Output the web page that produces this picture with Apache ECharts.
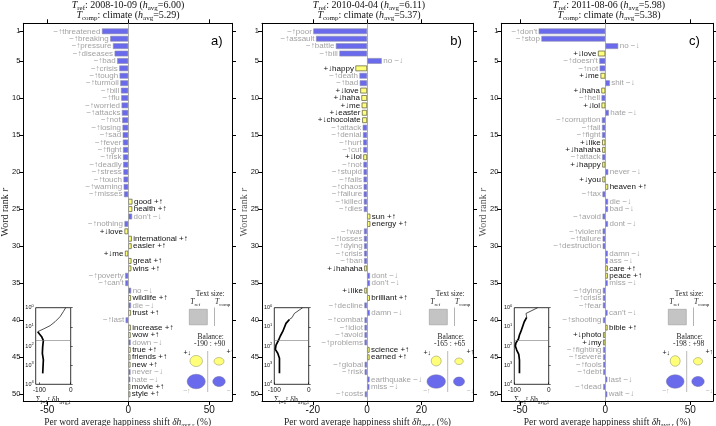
<!DOCTYPE html>
<html><head><meta charset="utf-8">
<script src="https://cdn.jsdelivr.net/npm/echarts@6/dist/echarts.min.js"></script>
<style>html,body{margin:0;padding:0;background:#fff}#c{width:716px;height:426px}</style>
</head><body><div id="c"></div>
<script>
// ---------------- DATA ----------------
const rankTicks = [1,5,10,15,20,25,30,35,40,45,50];
const rankCats = Array.from({length:50}, (_, i) => String(i + 1));

const wordsA = ['threatened','breaking','pressure','diseases','bad','crisis','tough','turmoil','bill','flu','worried','attacks','not','losing','sad','fever','fight','risk','deadly','stress','touch','warning','misses','good','health',"don't",'nothing','love','international','easier','me','great','wins','poverty',"can't",'no','wildlife','die','trust','last','increase','wow','down','true','friends','new','never','hate','movie','style'];
const typesA = ['-u','-u','-u','-u','-u','-u','-u','-u','-u','-u','-u','-u','-u','-u','-u','-u','-u','-u','-u','-u','-u','-u','-u','+u','+u','-d','-u','+d','+u','+u','+d','+u','+u','-u','-u','-d','+u','-d','+u','-u','+u','+u','-d','+u','+u','+u','-d','-d','+u','+u'];
const valuesA = [-16.2,-11.1,-9.4,-8.4,-6.8,-5.5,-5.3,-4.9,-4.5,-4.3,-4.1,-3.9,-3.7,-3.5,-3.4,-3.3,-3.2,-3.2,-3.1,-3.0,-2.9,-2.8,-2.6,2.6,2.5,2.4,-2.3,-2.3,2.2,2.1,-2.0,2.0,1.9,-1.9,-1.8,1.8,1.7,1.7,1.7,-1.6,1.6,1.5,1.5,1.5,1.4,1.4,1.4,1.3,1.3,1.3];

const wordsB = ['poor','assault','battle','bill','no','happy','death','bad','love','haha','me','easter','chocolate','attack','denial','hurt','cut','lol','not','stupid','fails','chaos','failure','killed','dies','sun','energy','war','losses','dying','crisis','ban','hahaha','dont',"don't",'like','brilliant','decline','damn','combat','idiot','avoid','problems','science','earned','global','risk','earthquake','miss','costs'];
const typesB = ['-u','-u','-u','-u','-d','+d','-u','-u','+d','+d','+d','+d','+d','-u','-u','-u','-u','+d','-u','-u','-u','-u','-u','-u','-u','+u','+u','-u','-u','-u','-u','-u','+d','-d','-d','+d','+u','-u','-d','-u','-u','-u','-u','+u','+u','-u','-u','-d','-d','-u'];
const valuesB = [-19.8,-18.8,-11.5,-10.2,5.4,-4.3,-2.8,-2.7,-2.5,-2.1,-2.0,-1.9,-1.8,-1.6,-1.5,-1.45,-1.4,-1.4,-1.35,-1.3,-1.3,-1.25,-1.25,-1.2,-1.2,1.2,1.2,-1.15,-1.15,-1.1,-1.1,-1.1,-1.05,1.05,1.05,-1.0,1.0,-1.0,1.0,-0.95,-0.95,-0.95,-0.95,0.9,0.9,-0.9,-0.9,0.9,0.85,-0.85];

const wordsC = ["don't",'stop','no','love',"doesn't",'not','me','shit','haha','hell','lol','hate','corruption','fail','fight','like','hahaha','attack','happy','never','you','heaven','tax','die','bad','avoid','dont','violent','failure','destruction','damn','ass','care','peace','miss','dying','crisis','fear',"can't",'shooting','bible','photo','my','fighting','severe','fools','debt','last','dead','wait'];
const typesC = ['-u','-u','-d','+d','-u','-u','+d','-d','+d','-u','+d','-d','-u','-u','-u','+d','+d','-u','+d','-d','+d','+u','-u','-d','-d','-u','-d','-u','-u','-u','-d','-d','+u','+u','-d','-u','-u','-u','-d','-u','+u','+d','+d','-u','-u','-u','-u','-d','-u','-d'];
const valuesC = [-39.2,-37.6,7.6,-4.3,-3.5,-3.3,-2.8,2.7,-2.3,-2.2,-2.2,2.1,-2.0,-1.9,-1.9,-1.85,-1.8,-1.8,-1.75,1.75,-1.7,1.7,-1.65,1.65,1.6,-1.6,1.6,-1.55,-1.55,-1.5,1.5,1.5,1.45,1.45,1.45,-1.4,-1.4,-1.4,1.35,-1.35,1.35,-1.3,-1.3,-1.3,-1.25,-1.25,-1.25,1.2,-1.2,1.2];

// cumulative-sum insets (rank r, cumulative shift)
const cumA_rThin = [1,1.6,2.95,5.4,8.7,13,17.9];
const cumA_vThin = [-16,-23.5,-34,-50,-66,-87.5,-105.6];
const cumA_rThick = [17.9,23.7,32.6,52.7,108,241,537,2680];
const cumA_vThick = [-105.6,-100,-93,-87.5,-89.6,-90.7,-87.5,-89.6];
const cumB_rThin = [1,2,3.3,4.1];
const cumB_vThin = [-17.5,-41.7,-48.5,-56];
const cumB_rThick = [4.1,6.6,17.9,30,48.6,89,149,240,437,2680];
const cumB_vThick = [-56,-66,-75.7,-82.5,-87.4,-95,-97,-90,-85,-85];
const cumC_rThin = [1,2,3.2];
const cumC_vThin = [-32,-66,-64];
const cumC_rThick = [3.2,5.4,9.8,17.9,26.7,43,67,100,162,274,540,2680];
const cumC_vThick = [-64,-71,-76,-81,-85,-88,-95,-97,-93,-87,-85,-85];

const refDates = ['2008-10-09','2010-04-04','2011-08-06'];
const hRef = ['6.00','6.11','5.98'];
const hComp = ['5.29','5.37','5.38'];
const balances = ['-190 : +90','-165 : +65','-198 : +98'];
const xTicksA = [-50,0,50], xTicksB = [-20,0,20], xTicksC = [-50,0,50];
const insetTicks = [-100,0];

// ---------------- STYLE / LAYOUT ----------------
const SANS = "'Liberation Sans','DejaVu Sans',Arial,sans-serif";
const SERIF = "'Liberation Serif','DejaVu Serif','Times New Roman',serif";
const BLUE = '#6a6aec', YELLOW = '#ffff7a';
const TOP = 23.3, BOT = 401, BTOP = 27.6, BBOT = 398;

const panels = [
  {left:23.3, right:232, xmin:-64.7, xmax:64, ticks:xTicksA, words:wordsA, types:typesA, vals:valuesA, letter:'a)', lx:216.7,
   inset:{left:35.7, right:70.7, xmin:-112}, cum:[cumA_rThin,cumA_vThin,cumA_rThick,cumA_vThick], div:207.7,
   circ:[[6.2,5.5],[5,3.8],[9,7.2],[6.2,5]]},
  {left:262, right:473, xmin:-38.7, xmax:39, ticks:xTicksB, words:wordsB, types:typesB, vals:valuesB, letter:'b)', lx:456,
   inset:{left:274.3, right:308.7, xmin:-100}, cum:[cumB_rThin,cumB_vThin,cumB_rThick,cumB_vThick], div:447.7,
   circ:[[5,5],[4.2,3.3],[9.2,6.7],[5.5,4.5]]},
  {left:501.3, right:713, xmin:-61.2, xmax:63.4, ticks:xTicksC, words:wordsC, types:typesC, vals:valuesC, letter:'c)', lx:694.3,
   inset:{left:514.3, right:548.7, xmin:-100}, cum:[cumC_rThin,cumC_vThin,cumC_rThick,cumC_vThick], div:686.7,
   circ:[[5,5.3],[4.5,3.7],[8.8,6.7],[6.2,5]]}
];

function barData(words, types, vals) {
  return vals.map(function (v, i) {
    const t = types[i];
    const plus = t.charAt(0) === '+';
    const arrow = (plus ? '+' : '\u2212') + (t.charAt(1) === 'u' ? '\u2191' : '\u2193');
    const neg = v < 0;
    return {
      value: v,
      itemStyle: plus ? {color: YELLOW, borderColor: '#55553a', borderWidth: 0.7}
                      : {color: BLUE, borderColor: '#8c8cae', borderWidth: 0.6},
      label: {show: true, position: neg ? 'left' : 'right',
               formatter: neg ? arrow + words[i] : words[i] + ' ' + arrow,
               color: plus ? '#111' : '#a2a2a2'}
    };
  });
}

function txt(x, y, text, rich, extra) {
  return Object.assign({type:'text', x:x, y:y, silent:true, style:{text:text, rich:rich,
    align:'center', textAlign:'center', verticalAlign:'middle', textVerticalAlign:'middle',
    fontFamily:SERIF, fontSize:7, fill:'#222'}}, extra || {});
}
function serifRich(fs, sub, color) {
  color = color || '#111';
  return {
    n:{fontFamily:SERIF, fontSize:fs, fill:color},
    i:{fontFamily:SERIF, fontSize:fs, fontStyle:'italic', fill:color},
    s:{fontFamily:SERIF, fontSize:sub, fill:color, padding:[Math.round(fs*0.6),0,0,0]}
  };
}

const grid = [], xAxis = [], yAxis = [], series = [], graphic = [];

panels.forEach(function (p, k) {
  const W = p.right - p.left;
  grid.push({left:p.left, top:TOP, width:W, height:BOT - TOP, containLabel:false, outerBoundsMode:'none'});
  grid.push({left:p.left, top:BTOP, width:W, height:BBOT - BTOP, containLabel:false, outerBoundsMode:'none'});
  grid.push({left:p.inset.left, top:307.7, width:p.inset.right - p.inset.left, height:76.6, containLabel:false,
             outerBoundsMode:'none', show:true, borderColor:'#000', borderWidth:0.8, backgroundColor:'#fff'});
  const gF = 3*k, gB = 3*k + 1, gI = 3*k + 2;
  const ax = 4*k;
  xAxis.push({gridIndex:gF, type:'value', min:p.xmin, max:p.xmax, position:'bottom',
    axisLine:{show:true, onZero:false, lineStyle:{color:'#000', width:1}},
    axisTick:{show:true, customValues:p.ticks, length:4, lineStyle:{color:'#000', width:1}},
    axisLabel:{show:true, customValues:p.ticks, fontFamily:SANS, fontSize:10, color:'#111', margin:4},
    splitLine:{show:false},
    name:'{n|Per word average happiness shift }{i|\u03b4h}{s|avg,r}{n| (%)}',
    nameLocation:'middle', nameGap:15, nameMoveOverlap:false,
    nameTextStyle:{fontFamily:SERIF, fontSize:9.5, color:'#222',
      rich:{n:{fontFamily:SERIF, fontSize:9.5}, i:{fontFamily:SERIF, fontSize:9.5, fontStyle:'italic'},
            s:{fontFamily:SERIF, fontSize:6.5, padding:[6,0,0,0]}}}
  });
  xAxis.push({gridIndex:gF, type:'value', min:p.xmin, max:p.xmax, position:'top',
    axisLine:{show:true, onZero:false, lineStyle:{color:'#000', width:1}},
    axisTick:{show:true, customValues:p.ticks, length:4, lineStyle:{color:'#000'}},
    axisLabel:{show:false}, splitLine:{show:false}});
  xAxis.push({gridIndex:gB, type:'value', min:p.xmin, max:p.xmax, show:false, splitLine:{show:false}});
  xAxis.push({gridIndex:gI, type:'value', min:p.inset.xmin, max:0,
    axisLine:{show:false}, splitLine:{show:false},
    axisTick:{show:true, customValues:insetTicks, length:2, inside:true, lineStyle:{color:'#000', width:0.6}},
    axisLabel:{customValues:insetTicks, fontFamily:SANS, fontSize:6.5, color:'#111', margin:2},
    name:'{t|\u03a3}{b|i=1}{p|r}{t| \u03b4h}{b|avg,i}', nameLocation:'middle', nameGap:11, nameMoveOverlap:false,
    nameTextStyle:{fontFamily:SERIF, fontSize:8, color:'#222',
      rich:{t:{fontFamily:SERIF, fontSize:8}, b:{fontFamily:SERIF, fontSize:5.5, padding:[4,0,0,0]},
            p:{fontFamily:SERIF, fontSize:5.5, padding:[0,0,4,0]}}}
  });

  yAxis.push({gridIndex:gF, type:'value', min:-0.08, max:50.92, inverse:true, position:'left',
    axisLine:{show:true, onZero:false, lineStyle:{color:'#000', width:1}},
    axisTick:{show:true, customValues:rankTicks, length:4, lineStyle:{color:'#000'}},
    axisLabel:{customValues:rankTicks, fontFamily:SANS, fontSize:7.5, color:'#111', margin:3},
    splitLine:{show:false},
    name:'{n|Word rank }{i|r}', nameLocation:'middle', nameGap:13, nameMoveOverlap:false,
    nameTextStyle:{fontFamily:SERIF, fontSize:10, color:k === 0 ? '#222' : '#555',
      rich:{n:{fontFamily:SERIF, fontSize:10}, i:{fontFamily:SERIF, fontSize:10, fontStyle:'italic'}}}
  });
  yAxis.push({gridIndex:gF, type:'value', min:-0.08, max:50.92, inverse:true, position:'right',
    axisLine:{show:true, onZero:false, lineStyle:{color:'#000', width:1}},
    axisTick:{show:true, customValues:rankTicks, length:4, lineStyle:{color:'#000'}},
    axisLabel:{show:false}, splitLine:{show:false}});
  yAxis.push({gridIndex:gB, type:'category', data:rankCats, inverse:true, show:false});
  yAxis.push({gridIndex:gI, type:'log', logBase:10, min:1, max:10000, inverse:true,
    axisLine:{show:false}, splitLine:{show:false}, minorTick:{show:false},
    axisTick:{show:true, length:2, inside:true, lineStyle:{color:'#000', width:0.6}},
    axisLabel:{fontFamily:SANS, fontSize:5.5, color:'#111', margin:2,
      formatter:function (v) { return '{b|10}{p|' + Math.round(Math.log10(v)) + '}'; },
      rich:{b:{fontFamily:SANS, fontSize:5.5}, p:{fontFamily:SANS, fontSize:4, padding:[0,0,4,0]}}}
  });

  series.push({type:'scatter', xAxisIndex:ax, yAxisIndex:ax, data:[], silent:true,
    markLine:{silent:true, symbol:'none', animation:false, label:{show:false},
      lineStyle:{color:'#9a9a9a', width:0.8, type:'solid'}, data:[{xAxis:0}]}});
  series.push({type:'bar', xAxisIndex:ax + 2, yAxisIndex:ax + 2, barWidth:5.7, silent:true,
    data:barData(p.words, p.types, p.vals),
    label:{show:true, fontFamily:SANS, fontSize:8, distance:1.5}});
  const c = p.cum;
  series.push({type:'line', xAxisIndex:ax + 3, yAxisIndex:ax + 3, showSymbol:false, silent:true,
    lineStyle:{color:'#000', width:0.7}, data:c[1].map(function (v, i) { return [v, c[0][i]]; }),
    markLine:{silent:true, symbol:'none', animation:false, label:{show:false},
      lineStyle:{color:'#777', width:0.6, type:'solid'}, data:[{yAxis:50}]}});
  series.push({type:'line', xAxisIndex:ax + 3, yAxisIndex:ax + 3, showSymbol:false, silent:true,
    lineStyle:{color:'#000', width:1.7}, data:c[3].map(function (v, i) { return [v, c[2][i]]; })});

  const cx = (k === 0) ? 128 : (k === 1 ? 369 : 609);
  graphic.push(txt(cx, 5.5, '{i|T}{s|ref}{n|: ' + refDates[k] + ' (}{i|h}{s|avg}{n|=' + hRef[k] + ')}', serifRich(10, 7)));
  graphic.push(txt(cx, 15.5, '{i|T}{s|comp}{n|: climate (}{i|h}{s|avg}{n|=' + hComp[k] + ')}', serifRich(10, 7)));
  graphic.push({type:'text', x:p.lx, y:41.7, silent:true, style:{text:p.letter, fontFamily:SANS, fontSize:13, fill:'#000',
    align:'center', textAlign:'center', verticalAlign:'middle', textVerticalAlign:'middle'}});

  const d = p.div;
  graphic.push(txt(d + 2.5, 294.5, '{n|Text size:}', serifRich(7.5, 5, '#222')));
  graphic.push(txt(d - 12.5, 302, '{i|T}{s|ref}', serifRich(7.5, 5, '#222')));
  graphic.push(txt(d + 15, 302, '{i|T}{s|comp}', serifRich(7.5, 5, '#222')));
  graphic.push({type:'rect', silent:true, shape:{x:d - 18.4, y:309.3, width:18, height:15.5},
    style:{fill:'#c4c4c4', stroke:'#9a9a9a', lineWidth:0.6}});
  graphic.push({type:'line', silent:true, shape:{x1:d + 6.8, y1:307.5, x2:d + 6.8, y2:326},
    style:{stroke:'#a0a0a0', lineWidth:0.8}});
  graphic.push(txt(d + 3, 337.5, '{n|Balance:}', serifRich(7.5, 5, '#222')));
  graphic.push(txt(d + 2, 344.5, '{n|' + balances[k] + '}', serifRich(7.5, 5, '#222')));
  graphic.push({type:'line', silent:true, shape:{x1:d, y1:351, x2:d, y2:392},
    style:{stroke:'#a8a8a8', lineWidth:0.8}});
  const cr = p.circ;
  graphic.push({type:'ellipse', silent:true, shape:{cx:d - 11.5, cy:361, rx:cr[0][0], ry:cr[0][1]}, style:{fill:YELLOW, stroke:'#8a8a60', lineWidth:0.5}});
  graphic.push({type:'ellipse', silent:true, shape:{cx:d + 11.3, cy:361.3, rx:cr[1][0], ry:cr[1][1]}, style:{fill:YELLOW, stroke:'#8a8a60', lineWidth:0.5}});
  graphic.push({type:'ellipse', silent:true, shape:{cx:d - 11.5, cy:381.5, rx:cr[2][0], ry:cr[2][1]}, style:{fill:BLUE, stroke:'#7070a0', lineWidth:0.5}});
  graphic.push({type:'ellipse', silent:true, shape:{cx:d + 11.3, cy:381.5, rx:cr[3][0], ry:cr[3][1]}, style:{fill:BLUE, stroke:'#7070a0', lineWidth:0.5}});
  const smallSans = function (x, y, t, col) {
    return {type:'text', x:x, y:y, silent:true, style:{text:t, fontFamily:SANS, fontSize:7, fill:col,
      align:'center', textAlign:'center', verticalAlign:'middle', textVerticalAlign:'middle'}};
  };
  graphic.push(smallSans(d - 20.5, 353, '+\u2193', '#111'));
  graphic.push(smallSans(d + 22.5, 352.5, '+\u2191', '#111'));
  graphic.push(smallSans(d - 21, 391, '\u2212\u2191', '#b0b0b0'));
  graphic.push(smallSans(d + 22.5, 391, '\u2212\u2193', '#b0b0b0'));
});

const chart = echarts.init(document.getElementById('c'), null, {renderer:'canvas'});
chart.setOption({
  animation:false,
  backgroundColor:'#fff',
  grid:grid, xAxis:xAxis, yAxis:yAxis, series:series, graphic:graphic
});
</script>
</body></html>
